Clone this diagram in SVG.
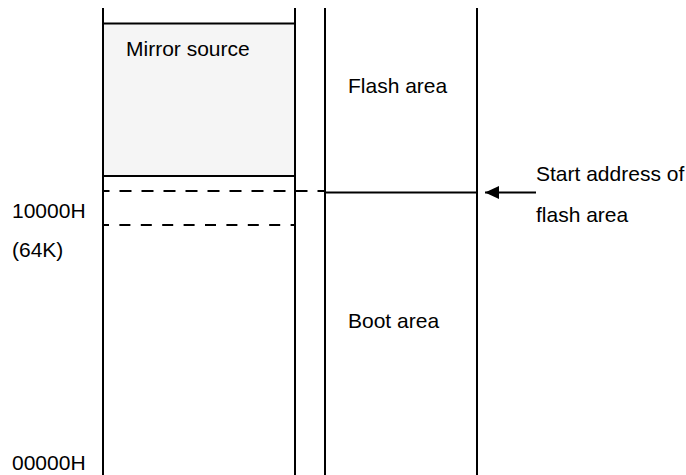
<svg xmlns="http://www.w3.org/2000/svg" width="686" height="475" viewBox="0 0 686 475">
<style>
.ln{stroke:#000;stroke-width:2;fill:none}
.dash{stroke:#000;stroke-width:2;fill:none;stroke-dasharray:12 10}
.t{font-family:"Liberation Sans",Arial,sans-serif;font-size:21px;fill:#000}
</style>
<defs>
<marker id="ah" markerWidth="14" markerHeight="14" refX="14" refY="7" orient="auto" markerUnits="userSpaceOnUse">
<path d="M0,0.5 L14,7 L0,13.5 Z" fill="#000"/>
</marker>
</defs>
<rect width="686" height="475" fill="#fff"/>
<g id="mirror-source">
<rect x="103" y="23.5" width="192" height="152.5" fill="#f5f5f5" stroke="none"/>
<line class="ln" x1="103" y1="23.5" x2="295" y2="23.5"/>
<line class="ln" x1="103" y1="176" x2="295" y2="176"/>
<text class="t" x="126" y="56">Mirror source</text>
</g>
<g id="mirror-column">
<line class="ln" x1="103" y1="8" x2="103" y2="475"/>
<line class="ln" x1="295" y1="8" x2="295" y2="475"/>
<line class="dash" x1="103" y1="191" x2="325" y2="191" stroke-dashoffset="5.5"/>
<line class="dash" x1="103" y1="225" x2="295" y2="225" style="stroke-dasharray:11 10.4" stroke-dashoffset="5"/>
</g>
<g id="flash-area">
<line class="ln" x1="325" y1="8" x2="325" y2="475"/>
<line class="ln" x1="477" y1="8" x2="477" y2="475"/>
<line class="ln" x1="325" y1="192.5" x2="477" y2="192.5"/>
<text class="t" x="348" y="92.5">Flash area</text>
</g>
<g id="boot-area">
<text class="t" x="348" y="327.5">Boot area</text>
</g>
<g id="address-labels">
<text class="t" x="12" y="217.5">10000H</text>
<text class="t" x="12" y="256.5">(64K)</text>
<text class="t" x="12" y="469.5">00000H</text>
</g>
<g id="start-address-label">
<text class="t" x="536" y="180.5">Start address of</text>
<text class="t" x="536" y="221.5">flash area</text>
</g>
<g id="connectors">
<line class="ln" x1="536" y1="192.5" x2="485" y2="192.5" marker-end="url(#ah)"/>
</g>
</svg>
